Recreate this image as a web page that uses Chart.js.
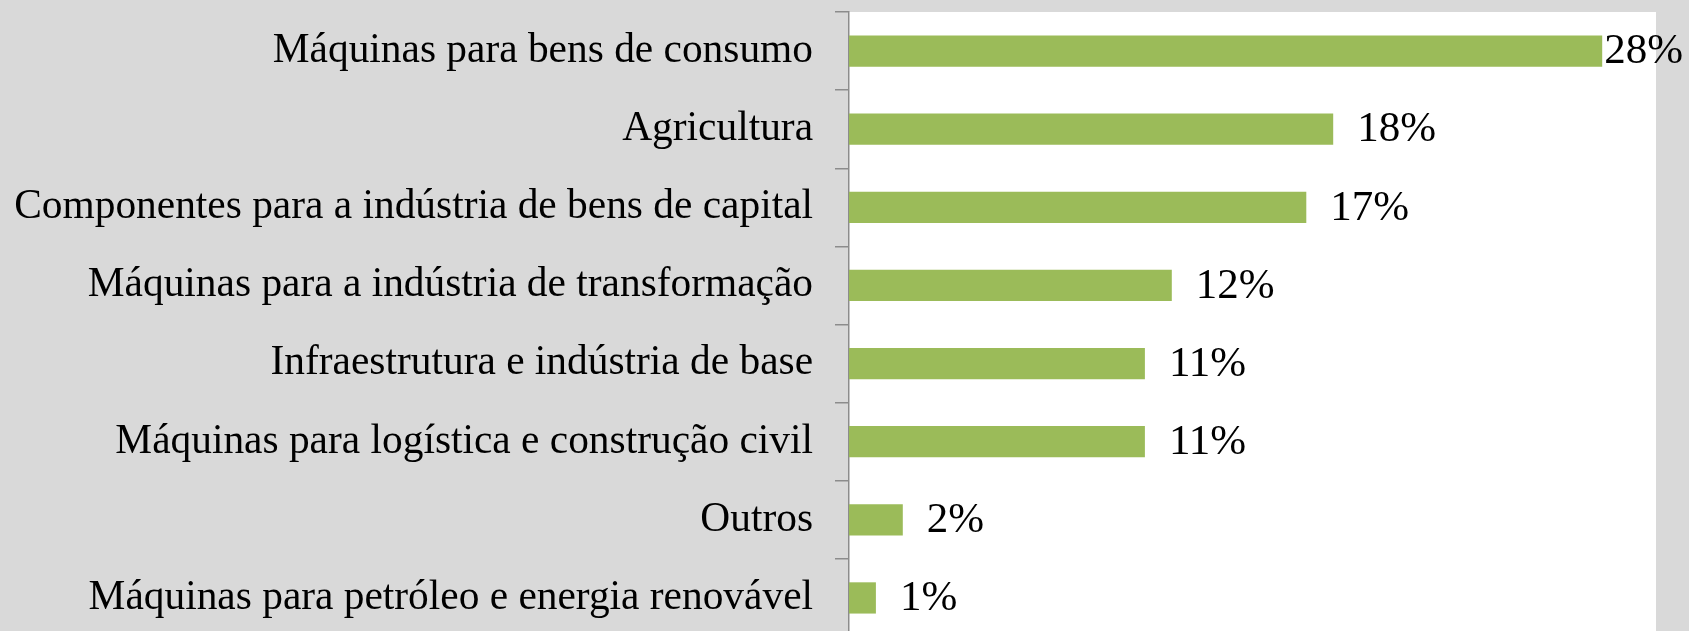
<!DOCTYPE html>
<html>
<head>
<meta charset="utf-8">
<script src="https://cdn.jsdelivr.net/npm/chart.js@4/dist/chart.umd.min.js"></script>
<style>
  html, body { margin: 0; padding: 0; overflow: hidden; background: #d9d9d9; }
  #wrap { width: 1689px; height: 631px; overflow: hidden; }
</style>
</head>
<body>
<div id="wrap"><canvas id="barChart" width="1689" height="637"></canvas></div>
<script>
const categories = [
  'Máquinas para bens de consumo',
  'Agricultura',
  'Componentes para a indústria de bens de capital',
  'Máquinas para a indústria de transformação',
  'Infraestrutura e indústria de base',
  'Máquinas para logística e construção civil',
  'Outros',
  'Máquinas para petróleo e energia renovável'
];
const shares = [28, 18, 17, 12, 11, 11, 2, 1];
const axisMax = 30;

const FONT = 'Liberation Serif, Times New Roman, serif';

// gray page, white plot area
const background = {
  id: 'background',
  beforeDraw(chart) {
    const ctx = chart.ctx, a = chart.chartArea;
    ctx.save();
    ctx.fillStyle = '#d9d9d9';
    ctx.fillRect(0, 0, chart.width, chart.height);
    ctx.fillStyle = '#ffffff';
    ctx.fillRect(a.left, a.top, a.right - a.left, a.bottom - a.top);
    ctx.restore();
  }
};

// value labels after the bar ends
const valueLabels = {
  id: 'valueLabels',
  afterDatasetsDraw(chart) {
    const ctx = chart.ctx;
    const meta = chart.getDatasetMeta(0);
    ctx.save();
    ctx.font = '43px ' + FONT;
    ctx.fillStyle = '#000';
    ctx.textAlign = 'left';
    ctx.textBaseline = 'middle';
    meta.data.forEach((bar, i) => {
      const txt = shares[i] + '%';
      const w = ctx.measureText(txt).width;
      let x = bar.x + 24;
      if (x + w > chart.width - 6) x = chart.width - 6 - w;
      ctx.fillText(txt, x, bar.y + 1);
    });
    ctx.restore();
  }
};

new Chart(document.getElementById('barChart').getContext('2d'), {
  type: 'bar',
  data: {
    labels: categories,
    datasets: [{
      data: shares,
      backgroundColor: '#9bbb59',
      borderWidth: 0,
      barPercentage: 0.4,
      categoryPercentage: 1
    }]
  },
  options: {
    indexAxis: 'y',
    responsive: false,
    animation: false,
    events: [],
    layout: { padding: { top: 12, right: 33, bottom: 0, left: 0 } },
    plugins: { legend: { display: false }, tooltip: { enabled: false } },
    scales: {
      x: { min: 0, max: axisMax, display: false },
      y: {
        afterFit(scale) {
          scale.width = 849;
          scale.paddingTop = 0;
          scale.paddingBottom = 0;
        },
        grid: {
          drawOnChartArea: false,
          tickLength: 14,
          color: '#8c8c8c',
          lineWidth: 1.5
        },
        border: { color: '#8c8c8c', width: 1.5 },
        ticks: {
          padding: 22,
          color: '#000',
          font: { family: FONT, size: 41.4 }
        }
      }
    }
  },
  plugins: [background, valueLabels]
});
</script>
</body>
</html>
